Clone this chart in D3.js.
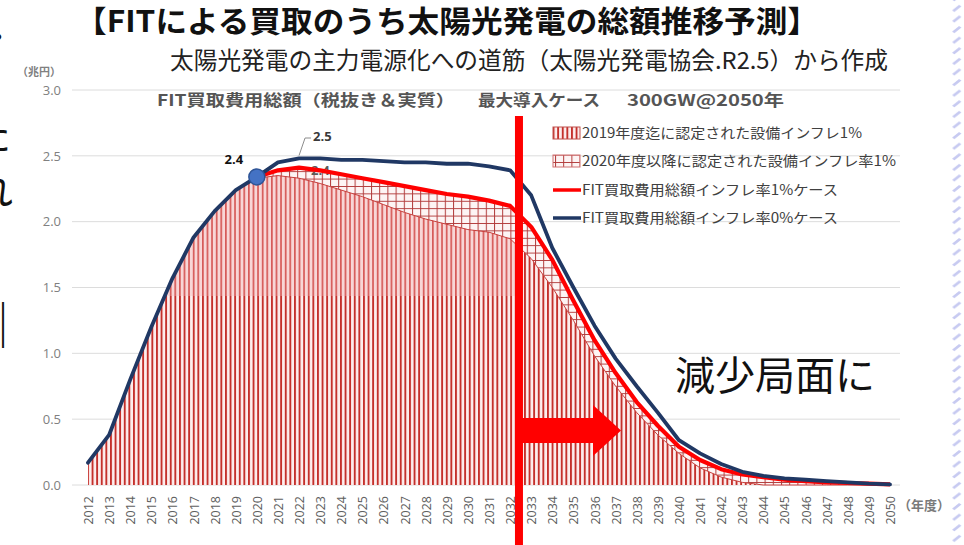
<!DOCTYPE html>
<html>
<head>
<meta charset="utf-8">
<script src="https://cdn.jsdelivr.net/npm/d3@7"></script>
<style>
  body { margin: 0; background: #fff; }
  svg { display: block; font-family: "Noto Sans CJK JP", "Noto Sans", sans-serif; }
</style>
</head>
<body>
<svg id="chart" width="964" height="545"></svg>
<script>
// data (兆円)
const years = [2012, 2013, 2014, 2015, 2016, 2017, 2018, 2019, 2020, 2021,
  2022, 2023, 2024, 2025, 2026, 2027, 2028, 2029, 2030, 2031,
  2032, 2033, 2034, 2035, 2036, 2037, 2038, 2039, 2040, 2041,
  2042, 2043, 2044, 2045, 2046, 2047, 2048, 2049, 2050];

// FIT買取費用総額 インフレ率0%ケース (navy line)
const total0 = [0.17, 0.38, 0.80, 1.20, 1.57, 1.88, 2.08, 2.24, 2.34, 2.45,
  2.48, 2.48, 2.47, 2.47, 2.46, 2.45, 2.45, 2.44, 2.44, 2.42,
  2.39, 2.20, 1.80, 1.50, 1.21, 0.96, 0.75, 0.55, 0.34, 0.24,
  0.16, 0.10, 0.07, 0.05, 0.04, 0.03, 0.02, 0.01, 0.005];

// FIT買取費用総額 インフレ率1%ケース (red line)
const total1 = [0.17, 0.38, 0.80, 1.20, 1.57, 1.88, 2.08, 2.24, 2.34, 2.39,
  2.41, 2.39, 2.36, 2.33, 2.30, 2.27, 2.24, 2.21, 2.19, 2.16,
  2.12, 1.96, 1.71, 1.40, 1.10, 0.85, 0.63, 0.45, 0.29, 0.19,
  0.12, 0.08, 0.06, 0.04, 0.03, 0.02, 0.015, 0.01, 0.005];

// 2019年度迄に認定された設備 (vertical stripes)
const upTo2019 = [0.17, 0.38, 0.80, 1.20, 1.57, 1.88, 2.08, 2.24, 2.33, 2.35,
  2.33, 2.29, 2.24, 2.19, 2.13, 2.07, 2.02, 1.98, 1.94, 1.92,
  1.87, 1.72, 1.50, 1.25, 0.98, 0.75, 0.55, 0.38, 0.24, 0.13,
  0.06, 0.02, 0, 0, 0, 0, 0, 0, 0];

const yTicks = [0, 0.5, 1.0, 1.5, 2.0, 2.5, 3.0];

const legendLabels = [
  "2019年度迄に認定された設備インフレ1%",
  "2020年度以降に認定された設備インフレ率1%",
  "FIT買取費用総額インフレ率1%ケース",
  "FIT買取費用総額インフレ率0%ケース"
];

const svg = d3.select("#chart");
const defs = svg.append("defs");

const x = d3.scalePoint().domain(years).range([88, 890]);
const y = d3.scaleLinear().domain([0, 3]).range([485, 90]);

// patterns
function stripePattern(id, bg, fg, w) {
  const p = defs.append("pattern").attr("id", id)
    .attr("patternUnits", "userSpaceOnUse")
    .attr("x", 87).attr("width", 4.6).attr("height", 8);
  p.append("rect").attr("width", 4.6).attr("height", 8).attr("fill", bg);
  p.append("rect").attr("width", w).attr("height", 8).attr("fill", fg);
}
stripePattern("stripe", "#fdeeee", "#c4302b", 1.9);
stripePattern("stripeLight", "#f8d6d6", "#d65a58", 1.7);

const grid = defs.append("pattern").attr("id", "grid")
  .attr("patternUnits", "userSpaceOnUse")
  .attr("x", 2).attr("y", 1).attr("width", 8.2).attr("height", 7.4);
grid.append("rect").attr("width", 8.2).attr("height", 7.4).attr("fill", "#fdf4f4");
grid.append("path").attr("d", "M0.5,0V7.4M0,0.5H8.2")
  .attr("stroke", "#b23b3b").attr("stroke-width", 1).attr("fill", "none");

const deco = defs.append("pattern").attr("id", "deco")
  .attr("patternUnits", "userSpaceOnUse")
  .attr("x", 948).attr("y", 2).attr("width", 16).attr("height", 10.6);
deco.append("path").attr("d", "M4,8.5 L11,3 L13.5,4.3 L6.5,9.8 Z").attr("fill", "#c7caf1");

const boundaryX = x(2032) + x.step() * 0.42;

defs.append("clipPath").attr("id", "paleBand")
  .append("rect").attr("x", 150).attr("y", 0)
  .attr("width", boundaryX - 150).attr("height", 296);

// gridlines
svg.append("g").selectAll("line")
  .data(yTicks)
  .join("line")
  .attr("x1", 72).attr("x2", 900)
  .attr("y1", d => y(d)).attr("y2", d => y(d))
  .attr("stroke", "#dcdcdc").attr("stroke-width", 1);

// y axis labels
const yAxis = svg.append("g")
  .attr("transform", "translate(72,0)")
  .call(d3.axisLeft(y).tickValues(yTicks).tickFormat(d3.format(".1f")).tickSize(0).tickPadding(11));
yAxis.select(".domain").remove();
yAxis.selectAll("text")
  .attr("fill", "#808080")
  .style("font-size", "13px")
  .style("font-family", "'Open Sans','Noto Sans',sans-serif");

svg.append("text").attr("x", 61).attr("y", 76)
  .attr("text-anchor", "end").attr("fill", "#808080")
  .style("font-size", "11px").style("font-weight", "bold")
  .text("（兆円）");

// x axis labels
const xAxis = svg.append("g")
  .attr("transform", "translate(0,485)")
  .call(d3.axisBottom(x).tickSize(0));
xAxis.select(".domain").remove();
xAxis.selectAll("text")
  .attr("transform", "rotate(-90)")
  .attr("x", -11).attr("y", 0).attr("dy", "0.36em")
  .style("text-anchor", "end")
  .attr("fill", "#606060")
  .style("font-size", "12.5px")
  .style("font-family", "'Open Sans','Noto Sans',sans-serif");

svg.append("text").attr("x", 898).attr("y", 510)
  .attr("fill", "#7a7a7a").style("font-size", "13px").style("font-weight", "bold")
  .text("（年度）");

// areas
const rows = years.map((yr, i) => ({ yr, s: upTo2019[i], t0: total0[i], t1: total1[i] }));

const hatchArea = d3.area()
  .x(d => x(d.yr)).y0(d => y(d.s)).y1(d => y(d.t1));
const stripeArea = d3.area()
  .x(d => x(d.yr)).y0(y(0)).y1(d => y(d.s));

svg.append("path").datum(rows).attr("d", hatchArea)
  .attr("fill", "url(#grid)");
svg.append("path").datum(rows).attr("d", stripeArea)
  .attr("fill", "url(#stripe)");
svg.append("path").datum(rows).attr("d", stripeArea)
  .attr("fill", "url(#stripeLight)").attr("clip-path", "url(#paleBand)");
svg.append("path").datum(rows)
  .attr("d", d3.line().x(d => x(d.yr)).y(d => y(d.s)))
  .attr("fill", "none").attr("stroke", "#c8413e").attr("stroke-width", 1);

// red data label (partly under the red line)
svg.append("text").attr("x", x(2022) + 12).attr("y", 175)
  .attr("fill", "#5a5a5a").style("font-size", "13px").style("font-weight", "bold")
  .style("font-family", "'Open Sans','Noto Sans',sans-serif")
  .text("2.4");

// lines
svg.append("path").datum(rows.filter(d => d.yr >= 2020))
  .attr("d", d3.line().x(d => x(d.yr)).y(d => y(d.t1)))
  .attr("fill", "none").attr("stroke", "#ff0000").attr("stroke-width", 4.2)
  .attr("stroke-linejoin", "round");
svg.append("path").datum(rows)
  .attr("d", d3.line().x(d => x(d.yr)).y(d => y(d.t0)))
  .attr("fill", "none").attr("stroke", "#203864").attr("stroke-width", 3.8)
  .attr("stroke-linejoin", "round").attr("stroke-linecap", "round");

// marker at 2020
const m = rows.find(d => d.yr === 2020);
svg.append("circle").attr("cx", x(m.yr)).attr("cy", y(m.t0)).attr("r", 8)
  .attr("fill", "#4472c4").attr("stroke", "#2f5597").attr("stroke-width", 1.5);
svg.append("text").attr("x", x(m.yr) - 23).attr("y", y(m.t0) - 13)
  .attr("text-anchor", "middle").attr("fill", "#111")
  .style("font-size", "13px").style("font-weight", "bold")
  .style("font-family", "'Open Sans','Noto Sans',sans-serif")
  .text("2.4");

// 2.5 label with leader
const p22 = rows.find(d => d.yr === 2022);
svg.append("path")
  .attr("d", `M${x(2022)},${y(p22.t0) - 3}L${x(2022) + 6},138H${x(2022) + 12}`)
  .attr("fill", "none").attr("stroke", "#8c8c8c").attr("stroke-width", 1);
svg.append("text").attr("x", x(2022) + 14).attr("y", 141)
  .attr("fill", "#3a3a3a").style("font-size", "13px").style("font-weight", "bold")
  .style("font-family", "'Open Sans','Noto Sans',sans-serif")
  .text("2.5");

// legend
const legend = svg.append("g").attr("transform", "translate(553,0)");
const legendY = [133, 161, 190, 218];
const legendW = [280, 314, 256, 256];
legendLabels.forEach((label, i) => {
  const g = legend.append("g").attr("transform", `translate(0,${legendY[i]})`);
  if (i === 0) {
    g.append("rect").attr("x", 0).attr("y", -6).attr("width", 27).attr("height", 12)
      .attr("fill", "url(#stripe)").attr("stroke", "#c0504d").attr("stroke-width", 1);
  } else if (i === 1) {
    g.append("rect").attr("x", 0).attr("y", -6).attr("width", 27).attr("height", 12)
      .attr("fill", "url(#grid)").attr("stroke", "#d07070").attr("stroke-width", 1);
  } else {
    g.append("line").attr("x1", 0).attr("x2", 28).attr("y1", 0).attr("y2", 0)
      .attr("stroke", i === 2 ? "#ff0000" : "#203864").attr("stroke-width", 3.5);
  }
  g.append("text").attr("x", 29).attr("y", 0).attr("dy", "0.36em")
    .attr("fill", "#404040").style("font-size", "14px")
    .attr("textLength", legendW[i]).attr("lengthAdjust", "spacingAndGlyphs")
    .text(label);
});

// chart inner title
const inner = [
  { t: "FIT買取費用総額（税抜き＆実質）", x: 157, w: 298 },
  { t: "最大導入ケース", x: 478, w: 122 },
  { t: "300GW@2050年", x: 627, w: 157 }
];
svg.append("g").selectAll("text").data(inner).join("text")
  .attr("x", d => d.x).attr("y", 106)
  .attr("textLength", d => d.w).attr("lengthAdjust", "spacingAndGlyphs")
  .attr("fill", "#555").style("font-size", "16px").style("font-weight", "bold")
  .text(d => d.t);

// main titles
svg.append("text").attr("x", 75).attr("y", 32)
  .attr("textLength", 744).attr("lengthAdjust", "spacingAndGlyphs")
  .attr("fill", "#111").style("font-size", "30px").style("font-weight", "bold")
  .text("【FITによる買取のうち太陽光発電の総額推移予測】");
svg.append("text").attr("x", 170).attr("y", 69)
  .attr("textLength", 718).attr("lengthAdjust", "spacingAndGlyphs")
  .attr("fill", "#222").style("font-size", "23.5px")
  .text("太陽光発電の主力電源化への道筋（太陽光発電協会.R2.5）から作成");

// boundary marker and arrow
svg.append("rect").attr("x", boundaryX - 4).attr("y", 116)
  .attr("width", 8).attr("height", 545 - 116).attr("fill", "#ff0000");
svg.append("path")
  .attr("d", `M${boundaryX},418H593V405L621,430.5L593,456V443H${boundaryX}Z`)
  .attr("fill", "#ff0000");

svg.append("text").attr("x", 675).attr("y", 390)
  .attr("fill", "#111").style("font-size", "40px")
  .text("減少局面に");

// slide fragments at the left edge
svg.append("text").attr("x", -17).attr("y", 48)
  .attr("fill", "#111").style("font-size", "30px").text("・");
svg.append("text").attr("x", -29).attr("y", 150)
  .attr("fill", "#111").style("font-size", "40px").text("た");
svg.append("text").attr("x", -27).attr("y", 205)
  .attr("fill", "#111").style("font-size", "40px").text("れ");
svg.append("text").attr("x", -20).attr("y", 342)
  .attr("fill", "#111").style("font-size", "46px").text("｜");

// slide border decoration
svg.append("rect").attr("x", 948).attr("y", 0).attr("width", 16).attr("height", 545)
  .attr("fill", "url(#deco)");
</script>
</body>
</html>
